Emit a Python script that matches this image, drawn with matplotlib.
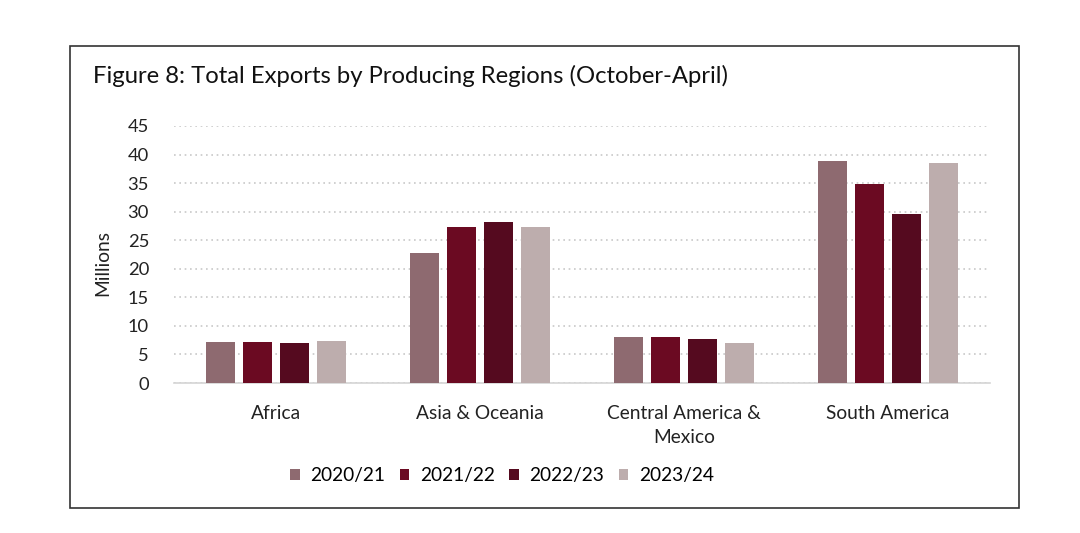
import numpy as np
import matplotlib
matplotlib.use("Agg")
import matplotlib.pyplot as plt
from matplotlib.patches import Rectangle

# Dados (milhões)
regioes = ["Africa", "Asia & Oceania", "Central America &\nMexico", "South America"]
safras = ["2020/21", "2021/22", "2022/23", "2023/24"]
v_2020 = [7.2, 22.8, 8.1, 38.9]
v_2021 = [7.2, 27.3, 8.1, 34.9]
v_2022 = [6.95, 28.2, 7.7, 29.6]
v_2023 = [7.4, 27.4, 7.0, 38.6]
yticks = [0, 5, 10, 15, 20, 25, 30, 35, 40, 45]

cores = ["#8e6a70", "#6b0a22", "#550a1f", "#bdadad"]
valores = [v_2020, v_2021, v_2022, v_2023]

plt.rcParams['font.family'] = ['Lato', 'DejaVu Sans']

fig = plt.figure(figsize=(10.8, 5.33), dpi=100)
W, H = 1080, 533

# moldura
fig.patches.append(Rectangle((70 / W, 1 - 508 / H), (1019 - 70) / W, (508 - 46) / H,
                             transform=fig.transFigure, fill=False,
                             edgecolor="#333333", linewidth=1.2))

fig.text(93 / W, 1 - 76 / H, "Figure 8: Total Exports by Producing Regions (October-April)",
         fontsize=17.2, color="#111111", va="center", ha="left")

ax = fig.add_axes([174 / W, 1 - 383 / H, (990 - 174) / W, (383 - 126) / H])

x = np.arange(len(regioes))
largura = 0.142
passo = 0.181
for i, (s, v) in enumerate(zip(safras, valores)):
    ax.bar(x + (i - 1.5) * passo, v, largura, color=cores[i], label=s, zorder=3)

ax.set_xlim(-0.5, len(regioes) - 0.5)
ax.set_ylim(0, 45)
ax.set_yticks(yticks)
ax.set_yticklabels([str(t) for t in yticks], fontsize=13.2, color="#222222")
ax.set_xticks(x)
ax.set_xticklabels(regioes, fontsize=13.8, color="#222222", linespacing=1.5)
ax.tick_params(axis="both", length=0)
ax.tick_params(axis="y", pad=18)
ax.tick_params(axis="x", pad=16)

ax.grid(axis="y", linestyle=(0, (1, 2.2)), color="#c8c8c8", linewidth=1.2, zorder=0)
for lado in ["top", "right", "left"]:
    ax.spines[lado].set_visible(False)
ax.spines["bottom"].set_color("#d4d4d4")
ax.spines["bottom"].set_linewidth(1.2)

fig.text(103 / W, 1 - 263 / H, "Millions", rotation=90, fontsize=13.8,
         color="#222222", ha="center", va="center")

fig.legend(loc="center", bbox_to_anchor=(502 / W, 1 - 476 / H), ncol=4, frameon=False,
           fontsize=13.8, handlelength=0.5, handleheight=0.5, handletextpad=0.55,
           columnspacing=0.75)

fig.savefig("out.png", dpi=100, facecolor="white")
